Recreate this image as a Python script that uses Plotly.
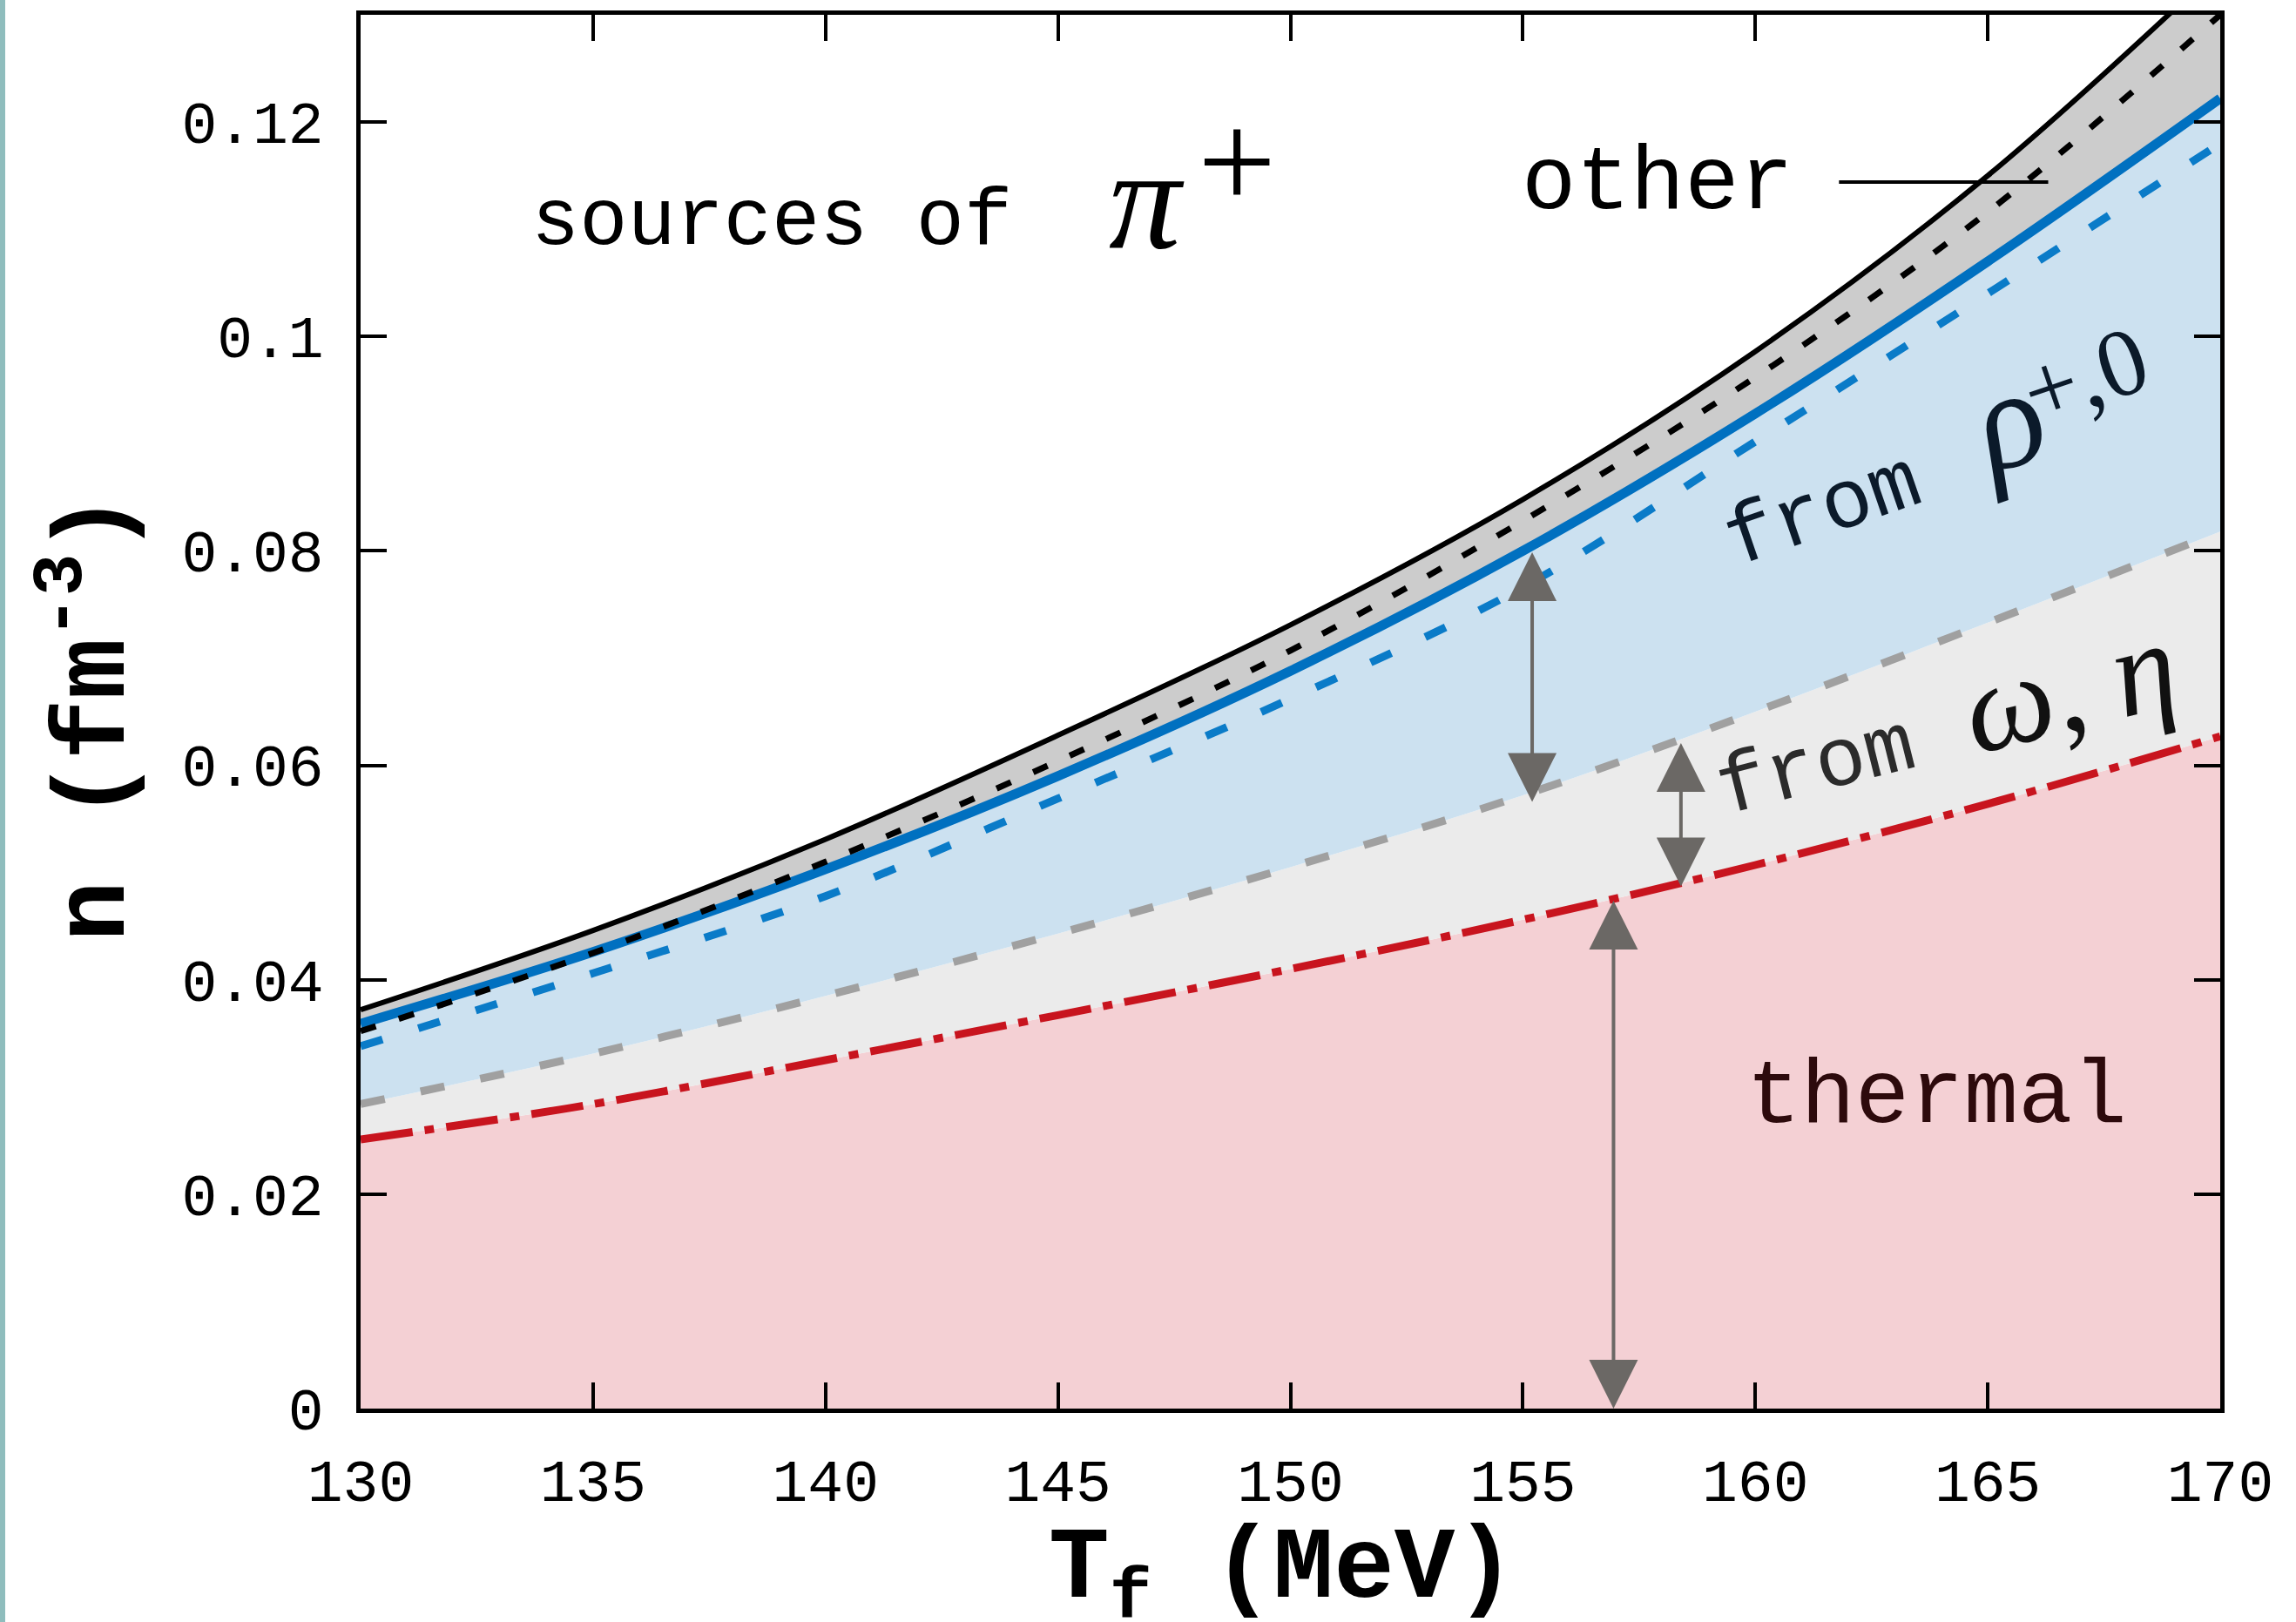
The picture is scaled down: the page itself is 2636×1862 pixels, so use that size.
import plotly.graph_objects as go

# ---------------- data ----------------
T = [130, 135, 140, 145, 150, 155, 160, 165, 170]
thermal = [0.0251, 0.0284, 0.0325, 0.0367, 0.0410, 0.0456, 0.0507, 0.0564, 0.0627]
omega_eta = [0.0284, 0.0331, 0.0385, 0.0443, 0.0505, 0.0572, 0.0650, 0.0733, 0.0818]
rho = [0.0359, 0.0426, 0.0503, 0.0590, 0.0688, 0.0800, 0.0928, 0.1070, 0.1222]
total = [0.0372, 0.0446, 0.0531, 0.0628, 0.0731, 0.0848, 0.0986, 0.1150, 0.1345]
rho_dashed = [0.0338, 0.0406, 0.0478, 0.0569, 0.0662, 0.0766, 0.0902, 0.1040, 0.1180]
total_dotted = [0.0352, 0.0425, 0.0510, 0.0604, 0.0707, 0.0828, 0.0962, 0.1116, 0.1300]

x_ticks = [130, 135, 140, 145, 150, 155, 160, 165, 170]
x_ticktext = ["130", "135", "140", "145", "150", "155", "160", "165", "170"]
y_ticks = [0, 0.02, 0.04, 0.06, 0.08, 0.1, 0.12]
y_ticktext = ["0", "0.02", "0.04", "0.06", "0.08", "0.1", "0.12"]

# arrows: (T, y_top, y_bottom)
arrow_T = [155.2, 158.4, 156.95]
arrow_top = [0.0800, 0.0622, 0.0475]
arrow_bot = [0.0566, 0.0487, 0.0]

MONO = "Liberation Mono, Courier New, monospace"
SERIF = "Liberation Serif, DejaVu Serif, serif"

fig = go.Figure()

def add(y, color, width, dash, fill=None, fillcolor=None):
    fig.add_trace(go.Scatter(
        x=T, y=y, mode="lines",
        line=dict(color=color, width=width, dash=dash, shape="spline", smoothing=1.0),
        fill=fill, fillcolor=fillcolor, showlegend=False, hoverinfo="skip"))

add(thermal, "#c8141e", 9, "60px,14px,11px,14px", "tozeroy", "#f4d0d4")
add(omega_eta, "#a0a0a0", 9, "28px,42px", "tonexty", "#ebebeb")
add(rho, "#0070c0", 11, "solid", "tonexty", "#cce1f0")
add(total, "#000000", 6, "solid", "tonexty", "#cccccc")
add(rho_dashed, "#0a7bc8", 9, "26px,43px")
add(total_dotted, "#000000", 7, "18px,28px")

annotations = []
for xa, yt, yb in zip(arrow_T, arrow_top, arrow_bot):
    annotations.append(dict(
        x=xa, y=yb, ax=xa, ay=yt, xref="x", yref="y", axref="x", ayref="y",
        text="", showarrow=True, arrowhead=2, startarrowhead=2,
        arrowside="end+start", arrowsize=2.8, startarrowsize=2.8,
        arrowwidth=4, arrowcolor="#6b6865", standoff=0, startstandoff=0))

def txt(x, y, text, size, family=MONO, color="#000000", angle=0, xanchor="center"):
    annotations.append(dict(
        x=x, y=y, xref="x", yref="y", text=text, showarrow=False,
        xanchor=xanchor, yanchor="middle", textangle=angle,
        font=dict(family=family, size=size, color=color)))

txt(133.64, 0.1106, "sources of", 92, xanchor="left")
txt(146.9, 0.1128, "<i>π</i>", 165, family=SERIF)
txt(148.85, 0.1163, "+", 160, family=SERIF)
txt(157.9, 0.1142, "other", 104)
txt(161.45, 0.0836, "from", 96, color="#0b1a2a", angle=-19)
txt(165.39, 0.0922, "<i>ρ</i>", 160, family=SERIF, color="#0b1a2a", angle=-19)
txt(167.09, 0.0964, "+,0", 110, family=SERIF, color="#0b1a2a", angle=-19)
txt(161.3, 0.0597, "from", 96, color="#2b2b2b", angle=-14)
txt(166.74, 0.0673, "<i>ω</i>, <i>η</i>", 145, family=SERIF, color="#111111", angle=-14)
txt(163.9, 0.0290, "thermal", 104, color="#2d0a0c")

# axis titles (paper annotations so they can sit exactly where the reference has them)
annotations.append(dict(
    x=0.4955, y=-0.1195, xref="paper", yref="paper", showarrow=False,
    xanchor="center", yanchor="middle",
    text="<b>T<sub>f</sub> (MeV)</b>",
    font=dict(family=MONO, size=116, color="#000000")))
annotations.append(dict(
    x=-0.1466, y=0.4956, xref="paper", yref="paper", showarrow=False,
    xanchor="center", yanchor="middle", textangle=-90,
    text="<b>n (fm<sup>-3</sup>)</b>",
    font=dict(family=MONO, size=116, color="#000000")))

shapes = [
    dict(type="line", xref="x", yref="y", x0=161.8, x1=166.3, y0=0.1144, y1=0.1144,
         line=dict(color="#000000", width=4)),
    dict(type="rect", xref="paper", yref="paper",
         x0=-414 / 2135, x1=-408 / 2135, y0=-245 / 1600, y1=1 + 17 / 1600,
         line=dict(width=0), fillcolor="#8fbdbd"),
]

axis_common = dict(showline=True, linecolor="#000000", linewidth=4.5, mirror="ticks",
                   ticks="inside", ticklen=30, tickwidth=4, tickcolor="#000000",
                   showgrid=False, zeroline=False, automargin=False,
                   tickfont=dict(family=MONO, size=68, color="#000000"))

fig.update_layout(
    width=2636, height=1862,
    margin=dict(l=414, r=87, t=17, b=245, autoexpand=False),
    paper_bgcolor="#ffffff", plot_bgcolor="#ffffff",
    annotations=annotations, shapes=shapes,
    xaxis=dict(range=[130, 170], tickvals=x_ticks, ticktext=x_ticktext,
               ticklabelstandoff=20, **axis_common),
    yaxis=dict(range=[0, 0.13], tickvals=y_ticks, ticktext=y_ticktext,
               ticklabelstandoff=24, **axis_common),
)

fig.write_html("out.html")
